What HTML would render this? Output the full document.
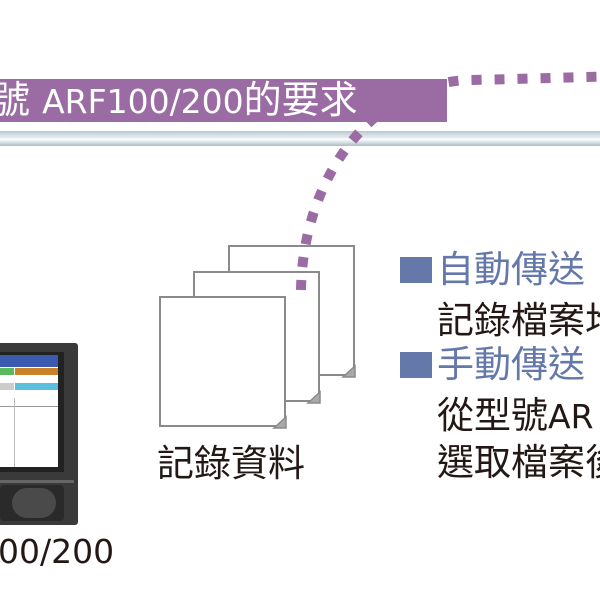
<!DOCTYPE html>
<html><head><meta charset="utf-8"><style>
html,body{margin:0;padding:0;background:#fff;}
body{width:600px;height:600px;position:relative;overflow:hidden;font-family:"DejaVu Sans","Noto Sans CJK TC",sans-serif;}
.abs{position:absolute;white-space:nowrap;}
.doc{position:absolute;width:127px;height:131px;border:2px solid #8a8a8a;background:#fff;box-sizing:border-box;}
.r{font-size:37px;color:#231815;line-height:1;}
.b{font-size:37px;color:#6478aa;line-height:1;}
.l{font-size:33px;}
</style></head><body>
<div class="abs" style="left:0;top:79px;width:447px;height:43px;background:#9a6ca3;"></div>
<div class="abs" style="left:-46px;top:80px;font-size:38px;color:#fff;line-height:40px;">型號 <span class="l">ARF100/200</span>的要求</div>
<div class="abs" style="left:0;top:131px;width:600px;height:15px;background:linear-gradient(#b8c8d0,#e8eef1 45%,#fff 55%,#a9bcc6);"></div>

<div class="doc" style="left:228px;top:245px;"></div>
<div class="doc" style="left:193px;top:271px;"></div>
<div class="doc" style="left:159px;top:296px;"></div>
<svg class="abs" style="left:0;top:0" width="600" height="600">
<g fill="#a9a9a9" stroke="#8a8a8a" stroke-width="1.5">
<path d="M343 377 L355 366 L355 377Z"/>
<path d="M308 403 L320 392 L320 403Z"/>
<path d="M274 428 L286 417 L286 428Z"/>
</g>
<path d="M301 290 C303 175 375 82 470 80 S 600 76 610 77" fill="none" stroke="#9a6ca3" stroke-width="10" stroke-dasharray="10 13"/>
</svg>
<div class="abs r" style="left:157px;top:445px;">記錄資料</div>

<div class="abs" style="left:400px;top:257px;width:32px;height:26px;background:#6478aa;"></div>
<div class="abs b" style="left:437px;top:251px;">自動傳送</div>
<div class="abs r" style="left:437px;top:302px;">記錄檔案均</div>
<div class="abs" style="left:400px;top:352px;width:32px;height:26px;background:#6478aa;"></div>
<div class="abs b" style="left:437px;top:346px;">手動傳送</div>
<div class="abs r" style="left:437px;top:397px;">從型號<span class="l">AR</span></div>
<div class="abs r" style="left:437px;top:444px;">選取檔案後</div>

<!-- device -->
<div class="abs" style="left:0;top:343px;width:78px;height:182px;background:#3a3a3a;border-radius:0 3px 3px 0;"></div>
<div class="abs" style="left:0;top:352px;width:64px;height:120px;background:#222;"></div>
<div class="abs" style="left:0;top:355px;width:58px;height:112px;background:#fff;"></div>
<div class="abs" style="left:0;top:355px;width:58px;height:12px;background:#3a5ab0;"></div>
<div class="abs" style="left:0;top:368px;width:14px;height:7px;background:#5cb85c;"></div>
<div class="abs" style="left:15px;top:368px;width:43px;height:7px;background:#c8822a;"></div>
<div class="abs" style="left:0;top:383px;width:14px;height:7px;background:#ccc;"></div>
<div class="abs" style="left:15px;top:383px;width:43px;height:7px;background:#5bc0de;"></div>
<div class="abs" style="left:0;top:406px;width:58px;height:1px;background:#999;"></div>
<div class="abs" style="left:14px;top:398px;width:1px;height:69px;background:#bbb;"></div>
<div class="abs" style="left:0;top:480px;width:74px;height:3px;background:#666;"></div>
<div class="abs" style="left:0;top:485px;width:64px;height:36px;background:#2a2a2a;border-radius:4px;"></div>
<div class="abs" style="left:12px;top:488px;width:44px;height:30px;background:#4a4a4a;border-radius:15px;"></div>
<div class="abs" style="left:-2px;top:532px;font-size:33px;color:#231815;line-height:1.2;">00/200</div>
</body></html>
